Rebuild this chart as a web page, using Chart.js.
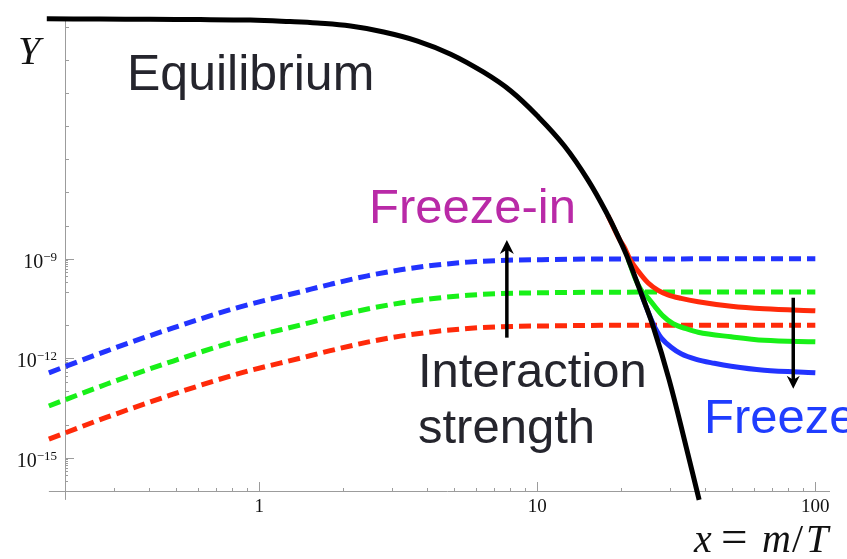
<!DOCTYPE html>
<html>
<head>
<meta charset="utf-8">
<script src="https://cdn.jsdelivr.net/npm/chart.js@4.4.1/dist/chart.umd.min.js"></script>
<style>
  html, body { margin: 0; padding: 0; background: #fff; }
</style>
</head>
<body>
<canvas id="yieldChart" width="847" height="559"></canvas>
<script>
// Equilibrium abundance Y_eq(x)
const eqX = [0.172, 0.267, 0.405, 0.613, 0.928, 1.29, 1.62, 2.13, 2.80, 3.71, 4.88, 6.41, 8.03, 10.0,
  12.5, 15.2, 17.9, 19.8, 21.2, 23.6, 26.1, 29.8, 34.3, 38.2];
const eqY = [1.72e-2, 1.69e-2, 1.66e-2, 1.63e-2, 1.58e-2, 1.42e-2, 1.28e-2, 1.04e-2, 6.9e-3, 3.68e-3, 1.48e-3,
  4.23e-4, 1.15e-4, 2.05e-5, 2.57e-6, 2.41e-7, 2.12e-8, 3.69e-9, 1.0e-9, 9.4e-11, 9.2e-12, 2.25e-13, 2.15e-15, 5.4e-17];

// Freeze-in (dashed), strongest coupling on top
const freezeInX = [0.175, 0.283, 0.490, 0.854, 1.405, 1.80, 2.45, 3.22, 4.24, 5.62, 7.39, 11.2, 16.9, 100];
const freezeInBlue = [3.66e-13, 1.68e-12, 8.3e-12, 3.57e-11, 1.01e-10, 1.70e-10, 3.07e-10, 4.66e-10, 6.37e-10,
  7.95e-10, 8.95e-10, 9.53e-10, 9.86e-10, 1e-9];
const freezeInGreen = [3.66e-14, 1.68e-13, 8.3e-13, 3.57e-12, 1.01e-11, 1.70e-11, 3.07e-11, 4.66e-11, 6.37e-11,
  7.95e-11, 8.95e-11, 9.53e-11, 9.86e-11, 1e-10];
const freezeInRed = [3.66e-15, 1.68e-14, 8.3e-14, 3.57e-13, 1.01e-12, 1.70e-12, 3.07e-12, 4.66e-12, 6.37e-12,
  7.95e-12, 8.95e-12, 9.53e-12, 9.86e-12, 1e-11];

// Freeze-out (solid), leaving the equilibrium curve
const freezeOutRedX = [17.9, 19.8, 20.5, 21.7, 23.0, 25.0, 27.2, 29.5, 32.9, 37.9, 49.8, 65.5, 100];
const freezeOutRedY = [2.12e-8, 3.69e-9, 2.3e-9, 8.7e-10, 4.35e-10, 1.89e-10, 1.12e-10, 8.2e-11, 6.4e-11, 5.06e-11,
  3.7e-11, 3.1e-11, 2.7e-11];
const freezeOutGreenX = [21.2, 22.6, 23.6, 25.0, 26.7, 28.3, 30.8, 34.3, 37.9, 49.8, 65.5, 100];
const freezeOutGreenY = [1e-9, 2.33e-10, 1.16e-10, 6.7e-11, 3.33e-11, 1.91e-11, 1.10e-11, 7.8e-12, 6.1e-12,
  4.45e-12, 3.49e-12, 3.15e-12];
const freezeOutBlueX = [23.6, 24.8, 26.1, 27.0, 27.9, 30.3, 32.9, 37.3, 43.3, 49.8, 65.5, 100];
const freezeOutBlueY = [9.4e-11, 3.1e-11, 1.1e-11, 6.3e-12, 4.15e-12, 2.15e-12, 1.37e-12, 9.3e-13, 7.07e-13,
  5.74e-13, 4.35e-13, 3.66e-13];

const xTicks = [1, 10, 100];
const yTicks = [1e-15, 1e-12, 1e-9];
const yTickExponents = ["\u221215", "\u221212", "\u22129"];

const BLUE = "#2233ff";
const GREEN = "#18f018";
const RED = "#ff2a0a";
const AXIS = "#9c9c9c";

function pairs(xs, ys) {
  return xs.map((x, i) => ({ x: x, y: ys[i] }));
}

function curve(label, xs, ys, color, dashed) {
  return {
    label: label,
    data: pairs(xs, ys),
    borderColor: color,
    borderWidth: 5,
    borderDash: dashed ? [12, 6] : [],
    borderCapStyle: "butt",
    pointRadius: 0,
    fill: false,
    cubicInterpolationMode: "monotone",
    clip: false,
  };
}

// inward Mathematica-style ticks, little axis overhangs, y labels as 10^n
const axisDecor = {
  id: "axisDecor",
  beforeDatasetsDraw(chart) {
    const ctx = chart.ctx;
    const xs = chart.scales.x;
    const ys = chart.scales.y;
    const left = xs.getPixelForValue(0.2);
    const bottom = ys.getPixelForValue(1e-16);

    ctx.save();
    ctx.strokeStyle = AXIS;
    ctx.lineWidth = 1;
    ctx.beginPath();
    // axis overhangs
    ctx.moveTo(xs.getPixelForValue(0.175), bottom + 0.5);
    ctx.lineTo(left, bottom + 0.5);
    ctx.moveTo(left + 0.5, bottom);
    ctx.lineTo(left + 0.5, ys.getPixelForValue(5.4e-17));

    for (let n = -1; n <= 2; n++) {
      for (let k = 1; k <= 9; k++) {
        const v = k * Math.pow(10, n);
        if (v < 0.2 - 1e-9 || v > 112) continue;
        const px = Math.round(xs.getPixelForValue(v)) + 0.5;
        const len = k === 1 ? 9 : 3;
        ctx.moveTo(px, bottom);
        ctx.lineTo(px, bottom - len);
      }
    }

    for (let n = -16; n <= -2; n++) {
      const major = yTicks.some((t) => Math.abs(Math.log10(t) - n) < 1e-6);
      const py = Math.round(ys.getPixelForValue(Math.pow(10, n))) + 0.5;
      ctx.moveTo(left, py);
      ctx.lineTo(left + (major ? 9 : 4), py);
      if (major) {
        for (let k = 2; k <= 9; k++) {
          const sy = Math.round(ys.getPixelForValue(k * Math.pow(10, n - 1))) + 0.5;
          ctx.moveTo(left, sy);
          ctx.lineTo(left + 3, sy);
        }
      }
    }
    ctx.stroke();

    // y tick labels
    ctx.fillStyle = "#111";
    ctx.textAlign = "right";
    ctx.textBaseline = "alphabetic";
    yTicks.forEach((t, i) => {
      const py = ys.getPixelForValue(t);
      ctx.font = "13px 'Liberation Serif'";
      const supW = ctx.measureText(yTickExponents[i]).width;
      ctx.fillText(yTickExponents[i], 57, py + 2);
      ctx.font = "20px 'Liberation Serif'";
      ctx.fillText("10", 57 - supW, py + 9);
    });
    ctx.restore();
  },
};

function arrow(ctx, x, y0, y1, head, width) {
  const dir = y1 < y0 ? -1 : 1;
  ctx.beginPath();
  ctx.lineWidth = 3.5;
  ctx.moveTo(x, y0);
  ctx.lineTo(x, y1 - dir * head * 0.6);
  ctx.stroke();
  ctx.beginPath();
  ctx.moveTo(x, y1);
  ctx.lineTo(x - width / 2, y1 - dir * head);
  ctx.lineTo(x, y1 - dir * head * 0.7);
  ctx.lineTo(x + width / 2, y1 - dir * head);
  ctx.closePath();
  ctx.fill();
}

const annotations = {
  id: "annotations",
  afterDatasetsDraw(chart) {
    const ctx = chart.ctx;
    const xs = chart.scales.x;
    const ys = chart.scales.y;
    ctx.save();
    ctx.textAlign = "left";
    ctx.textBaseline = "alphabetic";

    ctx.fillStyle = "#25252d";
    ctx.font = "50px 'Liberation Sans'";
    ctx.fillText("Equilibrium", 127, 90);
    ctx.font = "49px 'Liberation Sans'";
    ctx.fillText("Interaction", 418, 387);
    ctx.fillText("strength", 418, 443);

    ctx.fillStyle = "#b92aa7";
    ctx.fillText("Freeze-in", 369, 223);

    ctx.fillStyle = "#1f3dff";
    ctx.fillText("Freeze-out", 704, 433);

    // coupling arrows
    ctx.fillStyle = "#000";
    ctx.strokeStyle = "#000";
    arrow(ctx, xs.getPixelForValue(7.77), ys.getPixelForValue(4.2e-12), ys.getPixelForValue(3.7e-9), 14, 14);
    arrow(ctx, xs.getPixelForValue(83.3), ys.getPixelForValue(6.7e-11), ys.getPixelForValue(1.2e-13), 13, 13);

    // axis names
    ctx.fillStyle = "#111";
    ctx.font = "italic 40px 'Liberation Serif'";
    ctx.fillText("Y", 18, 64);
    ctx.fillText("x", 694, 552);
    ctx.fillText("m", 762, 552);
    ctx.fillText("T", 806, 552);
    ctx.font = "40px 'Liberation Serif'";
    ctx.fillText("/", 792, 552);
    ctx.font = "47px 'Liberation Serif'";
    ctx.fillText("=", 721, 552);
    ctx.restore();
  },
};

// the equilibrium curve reads smoother with a plain tension spline
const eqCurve = curve("Equilibrium", eqX, eqY, "#000", false);
eqCurve.cubicInterpolationMode = "default";
eqCurve.tension = 0.4;

new Chart(document.getElementById("yieldChart"), {
  type: "line",
  data: {
    datasets: [
      eqCurve,
      curve("Freeze-out strong", freezeOutBlueX, freezeOutBlueY, BLUE, false),
      curve("Freeze-out medium", freezeOutGreenX, freezeOutGreenY, GREEN, false),
      curve("Freeze-out weak", freezeOutRedX, freezeOutRedY, RED, false),
      curve("Freeze-in strong", freezeInX, freezeInBlue, BLUE, true),
      curve("Freeze-in medium", freezeInX, freezeInGreen, GREEN, true),
      curve("Freeze-in weak", freezeInX, freezeInRed, RED, true),
    ],
  },
  options: {
    responsive: false,
    animation: false,
    events: [],
    layout: { padding: { top: 20, right: 18, left: 0, bottom: 0 } },
    plugins: {
      legend: { display: false },
      tooltip: { enabled: false },
    },
    scales: {
      x: {
        type: "logarithmic",
        min: 0.2,
        max: 112,
        grid: { display: false, drawTicks: false },
        border: { display: true, color: AXIS, width: 1 },
        afterBuildTicks: (s) => {
          s.ticks = xTicks.map((v) => ({ value: v }));
        },
        afterFit: (s) => {
          s.height = 68;
        },
        ticks: {
          color: "#111",
          font: { family: "Liberation Serif", size: 19 },
          padding: 5,
          maxRotation: 0,
          autoSkip: false,
          callback: (v) => String(v),
        },
      },
      y: {
        type: "logarithmic",
        min: 1e-16,
        max: Math.pow(10, -1.8),
        grid: { display: false, drawTicks: false },
        border: { display: true, color: AXIS, width: 1 },
        afterBuildTicks: (s) => {
          s.ticks = yTicks.map((v) => ({ value: v }));
        },
        afterFit: (s) => {
          s.width = 65;
        },
        ticks: { display: false },
      },
    },
  },
  plugins: [axisDecor, annotations],
});
</script>
</body>
</html>
